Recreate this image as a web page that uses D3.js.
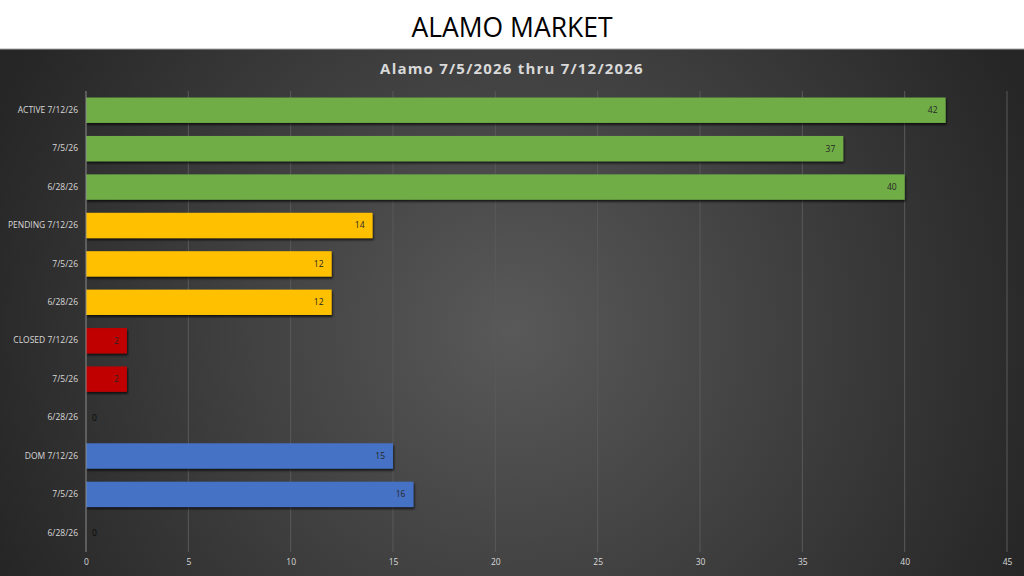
<!DOCTYPE html>
<html><head><meta charset="utf-8">
<script src="https://cdn.jsdelivr.net/npm/d3@7"></script>
<style>
html,body{margin:0;padding:0;background:#fff;overflow:hidden;}
svg{display:block;}
</style></head>
<body><div id="chart"></div>
<script>
const title = "ALAMO MARKET";
const subtitle = "Alamo 7/5/2026 thru 7/12/2026";
const categories = ["ACTIVE 7/12/26","7/5/26","6/28/26","PENDING 7/12/26","7/5/26","6/28/26","CLOSED 7/12/26","7/5/26","6/28/26","DOM 7/12/26","7/5/26","6/28/26"];
const values = [42,37,40,14,12,12,2,2,0,15,16,0];
const groups = ["active","active","active","pending","pending","pending","closed","closed","closed","dom","dom","dom"];
const groupColors = {active:"#70AD47", pending:"#FFC000", closed:"#C00000", dom:"#4472C4"};
const xTicks = [0,5,10,15,20,25,30,35,40,45];

(function(){
const W=1024,H=576;
const svg=d3.select("#chart").append("svg").attr("width",W).attr("height",H);
const defs=svg.append("defs");
const rg=defs.append("radialGradient").attr("id","bg").attr("gradientUnits","userSpaceOnUse")
  .attr("cx",512).attr("cy",330).attr("r",560);
rg.append("stop").attr("offset","0%").attr("stop-color","#595959");
rg.append("stop").attr("offset","100%").attr("stop-color","#262626");
const sh=defs.append("filter").attr("id","shadow").attr("x","-5%").attr("y","-20%").attr("width","110%").attr("height","160%");
sh.append("feDropShadow").attr("dx",1).attr("dy",2).attr("stdDeviation",1.2).attr("flood-color","#000").attr("flood-opacity",0.7);

svg.append("rect").attr("x",0).attr("y",0).attr("width",W).attr("height",49).attr("fill","#fff");
svg.append("rect").attr("x",0).attr("y",49).attr("width",W).attr("height",H-49).attr("fill","url(#bg)");
svg.append("line").attr("x1",0).attr("x2",W).attr("y1",49).attr("y2",49).attr("stroke","#a6a6a6").attr("stroke-width",1);

svg.append("text").attr("x",512).attr("y",37).attr("text-anchor","middle")
  .attr("font-family","'Open Sans',sans-serif").attr("font-size",26.5).attr("fill","#000").text(title);
svg.append("text").attr("x",512).attr("y",74).attr("text-anchor","middle")
  .attr("font-family","'Open Sans',sans-serif").attr("font-weight","bold").attr("font-size",15).attr("letter-spacing",1.2).attr("fill","#d9d9d9").text(subtitle);

const pLeft=86,pRight=1007,pTop=91,pBottom=552;
const x=d3.scaleLinear().domain([0,45]).range([pLeft,pRight]);
const y=d3.scaleBand().domain(d3.range(categories.length)).range([pTop,pBottom]).paddingInner(0.34).paddingOuter(0.17);

svg.append("g").selectAll("line").data(xTicks.slice(1)).join("line")
  .attr("x1",d=>x(d)).attr("x2",d=>x(d)).attr("y1",pTop).attr("y2",pBottom)
  .attr("stroke","#595959").attr("stroke-width",1);

const xAxis=d3.axisBottom(x).tickValues(xTicks).tickSize(0).tickPadding(6);
const ga=svg.append("g").attr("transform",`translate(0,${pBottom+1})`).call(xAxis);
ga.select(".domain").remove();
ga.selectAll("text").attr("font-family","'Open Sans',sans-serif").attr("font-size",8.5).attr("fill","#d9d9d9");

svg.append("g").selectAll("rect").data(values).join("rect")
  .attr("x",x(0)).attr("y",(d,i)=>y(i)).attr("width",d=>x(d)-x(0)).attr("height",y.bandwidth())
  .attr("fill",(d,i)=>groupColors[groups[i]]).attr("filter","url(#shadow)");

svg.append("line").attr("x1",x(0)).attr("x2",x(0)).attr("y1",pTop).attr("y2",pBottom).attr("stroke","#8c8c8c").attr("stroke-width",1);

const yAxis=d3.axisLeft(y).tickFormat(i=>categories[i]).tickSize(0).tickPadding(8);
const gy=svg.append("g").attr("transform",`translate(${x(0)},0)`).call(yAxis);
gy.select(".domain").remove();
gy.selectAll("text").attr("font-family","'Open Sans',sans-serif").attr("font-size",8.5).attr("fill","#d9d9d9");

svg.append("g").selectAll("text").data(values).join("text")
  .attr("x",d=>d>0?x(d)-8:x(0)+6).attr("y",(d,i)=>y(i)+y.bandwidth()/2)
  .attr("dy","0.35em").attr("text-anchor",d=>d>0?"end":"start")
  .attr("font-family","'Open Sans',sans-serif").attr("font-size",8.5).attr("fill",d=>d>0?"#262626":"#0a0a0a").text(d=>d);
})();
</script></body></html>
